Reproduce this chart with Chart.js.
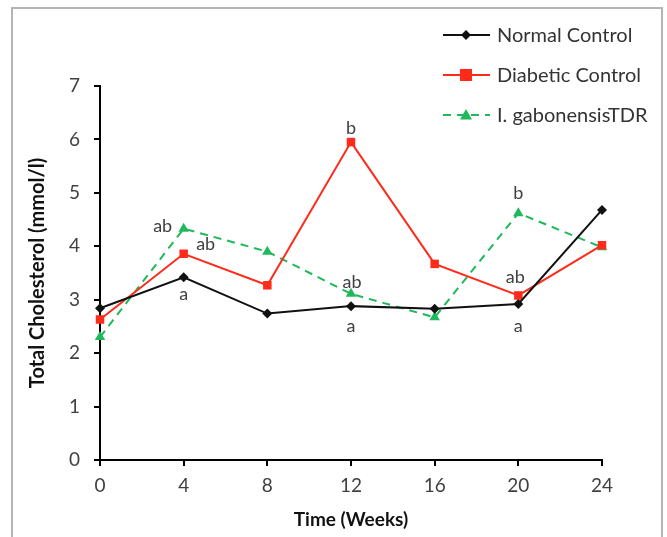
<!DOCTYPE html>
<html lang="en">
  <head>
    <meta charset="UTF-8" />
    <title>Total Cholesterol</title>
    <script src="https://cdn.jsdelivr.net/npm/chart.js"></script>
    <style>
      html, body { margin: 0; padding: 0; background: #fff; }
      #wrap { width: 667px; height: 537px; position: relative; }
    </style>
  </head>
  <body>
    <div id="wrap"><canvas id="cholChart"></canvas></div>

    <script>
      // data
      const weeks = [0, 4, 8, 12, 16, 20, 24];
      const normalControl = [2.84, 3.42, 2.74, 2.88, 2.83, 2.92, 4.68];
      const diabeticControl = [2.63, 3.86, 3.27, 5.95, 3.67, 3.08, 4.02];
      const gabonensisTDR = [2.3, 4.33, 3.9, 3.11, 2.67, 4.62, 3.98];
      const seriesNames = ["Normal Control", "Diabetic Control", "I. gabonensisTDR"];

      // significance letters: [dataset index, point index, text, dx, dy]
      const letters = [
        [2, 1, "ab", -21, -2],
        [1, 1, "ab", 22, -10],
        [0, 1, "a", 0, 17],
        [1, 3, "b", 0, -14],
        [2, 3, "ab", 1, -12],
        [0, 3, "a", 0, 20],
        [2, 5, "b", 0, -20],
        [1, 5, "ab", -3, -18],
        [0, 5, "a", 0, 22],
      ];

      const FONT = "Lato, 'Open Sans', sans-serif";
      const colors = ["#111111", "#ff2a1a", "#1fb85a"];

      const toXY = (ys) => weeks.map((w, i) => ({ x: w, y: ys[i] }));

      const framePlugin = {
        id: "frame",
        beforeDraw(chart) {
          const ctx = chart.ctx;
          ctx.save();
          ctx.fillStyle = "#fff";
          ctx.fillRect(0, 0, chart.width, chart.height);
          ctx.strokeStyle = "#b4b4b4";
          ctx.lineWidth = 2;
          ctx.strokeRect(12, 8, 650, 600);
          ctx.restore();
        },
      };

      const lettersPlugin = {
        id: "letters",
        afterDatasetsDraw(chart) {
          const ctx = chart.ctx;
          ctx.save();
          ctx.font = "18px " + FONT;
          ctx.fillStyle = "#404040";
          ctx.textAlign = "center";
          ctx.textBaseline = "middle";
          letters.forEach(([d, i, t, dx, dy]) => {
            const pt = chart.getDatasetMeta(d).data[i];
            ctx.fillText(t, pt.x + dx, pt.y + dy);
          });
          ctx.restore();
        },
      };

      // legend drawn by hand (line sample with marker in the middle)
      const legendPlugin = {
        id: "handLegend",
        afterDraw(chart) {
          const ctx = chart.ctx;
          const rows = [35, 75, 115];
          ctx.save();
          chart.data.datasets.forEach((ds, k) => {
            const y = rows[k];
            ctx.strokeStyle = ds.borderColor;
            ctx.lineWidth = 2;
            ctx.setLineDash(ds.borderDash || []);
            ctx.beginPath();
            ctx.moveTo(443, y);
            ctx.lineTo(490, y);
            ctx.stroke();
            ctx.setLineDash([]);
            ctx.fillStyle = ds.pointBackgroundColor;
            const r = ds.pointRadius;
            ctx.beginPath();
            if (ds.pointStyle === "rectRot") {
              ctx.moveTo(466, y - r);
              ctx.lineTo(466 + r, y);
              ctx.lineTo(466, y + r);
              ctx.lineTo(466 - r, y);
            } else if (ds.pointStyle === "rect") {
              ctx.rect(466 - r, y - r, 2 * r, 2 * r);
            } else {
              ctx.moveTo(466, y - r);
              ctx.lineTo(466 + r, y + r * 0.75);
              ctx.lineTo(466 - r, y + r * 0.75);
            }
            ctx.closePath();
            ctx.fill();
            ctx.fillStyle = "#333";
            ctx.font = "20px " + FONT;
            ctx.textBaseline = "middle";
            ctx.fillText(ds.label, 497, y + 1);
          });
          ctx.restore();
        },
      };

      const axisLine = {
        display: true,
        drawOnChartArea: false,
        drawTicks: true,
        tickLength: 6,
        color: "#000",
        lineWidth: 2,
      };

      new Chart(document.getElementById("cholChart"), {
        type: "line",
        data: {
          datasets: [
            {
              label: seriesNames[0],
              data: toXY(normalControl),
              borderColor: colors[0],
              backgroundColor: colors[0],
              pointBackgroundColor: colors[0],
              pointBorderWidth: 0,
              pointStyle: "rectRot",
              pointRadius: 5,
              borderWidth: 2,
              tension: 0,
              clip: false,
            },
            {
              label: seriesNames[1],
              data: toXY(diabeticControl),
              borderColor: colors[1],
              backgroundColor: colors[1],
              pointBackgroundColor: colors[1],
              pointBorderWidth: 0,
              pointStyle: "rect",
              pointRadius: 6,
              borderWidth: 2,
              tension: 0,
              clip: false,
            },
            {
              label: seriesNames[2],
              data: toXY(gabonensisTDR),
              borderColor: colors[2],
              backgroundColor: colors[2],
              pointBackgroundColor: colors[2],
              pointBorderWidth: 0,
              pointStyle: "triangle",
              pointRadius: 6,
              borderWidth: 2,
              borderDash: [8, 6],
              tension: 0,
              clip: false,
            },
          ],
        },
        options: {
          responsive: true,
          maintainAspectRatio: false,
          animation: false,
          layout: { padding: { top: 86, right: 65, left: 0, bottom: 0 } },
          scales: {
            x: {
              type: "linear",
              min: 0,
              max: 24,
              border: { display: true, color: "#000", width: 2 },
              grid: axisLine,
              ticks: {
                stepSize: 4,
                padding: 8,
                color: "#404040",
                font: { family: FONT, size: 19 },
              },
              title: {
                display: true,
                text: "Time (Weeks)",
                color: "#111",
                font: { family: FONT, size: 19, weight: "bold" },
                padding: { top: 0, bottom: 6 },
              },
              afterFit: (scale) => {
                scale.height = 77;
              },
            },
            y: {
              min: 0,
              max: 7,
              border: { display: true, color: "#000", width: 2 },
              grid: axisLine,
              ticks: {
                stepSize: 1,
                padding: 14,
                color: "#404040",
                font: { family: FONT, size: 19 },
              },
              title: {
                display: true,
                text: "Total Cholesterol (mmol/l)",
                color: "#111",
                font: { family: FONT, size: 20, weight: "bold" },
                padding: { top: 26, bottom: 0 },
              },
              afterFit: (scale) => {
                scale.width = 100;
              },
            },
          },
          plugins: {
            legend: { display: false },
            tooltip: { enabled: false },
          },
        },
        plugins: [framePlugin, lettersPlugin, legendPlugin],
      });
    </script>
  </body>
</html>
